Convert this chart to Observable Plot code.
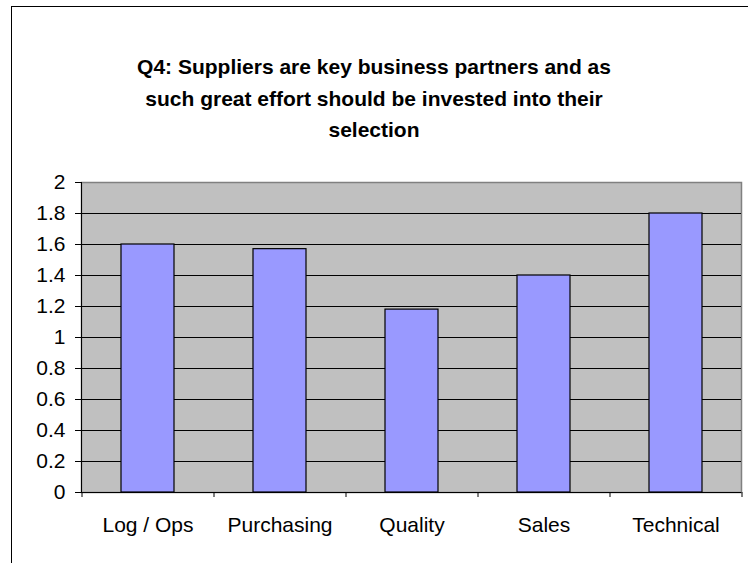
<!DOCTYPE html>
<html>
<head>
<meta charset="utf-8">
<script src="https://cdn.jsdelivr.net/npm/d3@7"></script>
<script src="https://cdn.jsdelivr.net/npm/@observablehq/plot@0.6"></script>
<style>
  html, body { margin: 0; padding: 0; background: #fff; }
  #wrap { position: relative; width: 748px; height: 563px; overflow: hidden; background: #fff; font-family: "Liberation Sans", Arial, sans-serif; }
  #border { position: absolute; left: 11px; top: 6px; width: 1000px; height: 1000px; border-left: 1.5px solid #000; border-top: 1.5px solid #000; }
  #chart { position: absolute; left: 0; top: 0; }
  #title { position: absolute; left: 0; top: 51px; width: 748px; text-align: center; font-weight: bold; font-size: 21px; line-height: 31.5px; color: #000; z-index: 2; }
</style>
</head>
<body>
<div id="wrap">
  <div id="border"></div>
  <div id="chart"></div>
  <div id="title">Q4: Suppliers are key business partners and as<br>such great effort should be invested into their<br>selection</div>
</div>
<script>
const categories = ["Log / Ops", "Purchasing", "Quality", "Sales", "Technical"];
const values = [1.6, 1.57, 1.18, 1.4, 1.8];
const yTicks = [0, 0.2, 0.4, 0.6, 0.8, 1, 1.2, 1.4, 1.6, 1.8, 2];
const yTickLabels = ["0", "0.2", "0.4", "0.6", "0.8", "1", "1.2", "1.4", "1.6", "1.8", "2"];

const data = categories.map((c, i) => ({category: c, value: values[i]}));

const W = 748, H = 563, mL = 81, mR = 7, mT = 182, mB = 71;
const halfStep = (W - mL - mR) / categories.length / 2;
const font = "'Liberation Sans', Arial, sans-serif";

const chart = Plot.plot({
  width: W,
  height: H,
  marginLeft: mL,
  marginRight: mR,
  marginTop: mT,
  marginBottom: mB,
  style: {background: "transparent", fontFamily: font, fontSize: "21px", color: "#000"},
  x: {domain: categories, paddingInner: 0.6, paddingOuter: 0.3, label: null},
  y: {domain: [0, 2], label: null},
  marks: [
    Plot.frame({fill: "#C0C0C0", stroke: "#808080", strokeWidth: 1.5}),
    Plot.gridY(yTicks.filter(v => v > 0 && v < 2), {stroke: "#000", strokeOpacity: 1, strokeWidth: 1}),
    Plot.barY(data, {x: "category", y: "value", fill: "#9999FF", stroke: "#000", strokeWidth: 1.2}),
    Plot.ruleY([0], {stroke: "#000", strokeWidth: 1}),
    Plot.frame({anchor: "left", stroke: "#000", strokeWidth: 1}),
    Plot.axisY(yTicks, {tickSize: 6, tickPadding: 10, tickFormat: (d, i) => yTickLabels[yTicks.indexOf(d)], stroke: "#000", fontSize: 21, label: null}),
    Plot.axisX(categories, {tickSize: 0, tickPadding: 25, fontSize: 21, label: null}),
    Plot.axisX(categories, {tickSize: 5, text: null, dx: -halfStep, stroke: "#000", label: null}),
    Plot.axisX([categories[categories.length - 1]], {tickSize: 5, text: null, dx: halfStep, stroke: "#000", label: null})
  ]
});
document.getElementById("chart").appendChild(chart);
</script>
</body>
</html>
